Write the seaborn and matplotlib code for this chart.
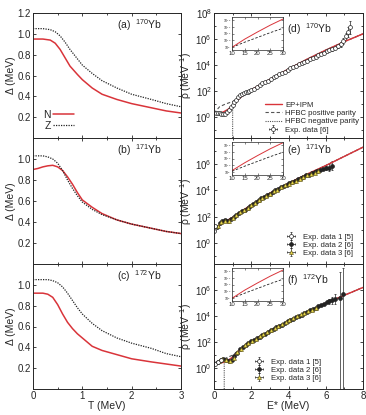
import numpy as np
import matplotlib
matplotlib.use("Agg")
import matplotlib.pyplot as plt
import seaborn as sns
from matplotlib.lines import Line2D

# ---------------- left column: pairing gaps ----------------
T_a = [0, 0.2, 0.35, 0.45, 0.55, 0.65, 0.75, 0.9, 1.0, 1.2, 1.4, 1.7, 2.0, 2.4, 2.7, 3.0]
gapN_a = [0.95, 0.95, 0.94, 0.91, 0.85, 0.77, 0.69, 0.61, 0.56, 0.48, 0.42, 0.37, 0.33, 0.29, 0.26, 0.24]
gapZ_a = [1.05, 1.05, 1.04, 1.02, 0.98, 0.92, 0.85, 0.76, 0.70, 0.62, 0.55, 0.48, 0.42, 0.37, 0.33, 0.30]

T_b = [0, 0.1, 0.2, 0.3, 0.4, 0.5, 0.6, 0.7, 0.8, 0.9, 1.0, 1.2, 1.4, 1.7, 2.0, 2.4, 2.7, 3.0]
gapN_b = [0.90, 0.91, 0.925, 0.935, 0.94, 0.925, 0.89, 0.83, 0.76, 0.68, 0.61, 0.54, 0.48, 0.42, 0.38, 0.34, 0.31, 0.29]
gapZ_b = [1.03, 1.03, 1.03, 1.02, 1.00, 0.96, 0.89, 0.80, 0.72, 0.65, 0.59, 0.52, 0.47, 0.42, 0.38, 0.34, 0.31, 0.29]

T_c = [0, 0.2, 0.3, 0.4, 0.5, 0.6, 0.7, 0.8, 0.9, 1.0, 1.2, 1.4, 1.7, 2.0, 2.4, 2.7, 3.0]
gapN_c = [0.92, 0.92, 0.91, 0.88, 0.81, 0.72, 0.64, 0.58, 0.53, 0.49, 0.41, 0.37, 0.33, 0.29, 0.26, 0.24, 0.22]
gapZ_c = [1.05, 1.05, 1.05, 1.04, 1.02, 0.98, 0.92, 0.85, 0.78, 0.72, 0.63, 0.56, 0.49, 0.44, 0.39, 0.34, 0.31]

# ---------------- right column: level densities (log10 rho) ----------------
E_model = [0, 0.02, 0.25, 0.5, 0.75, 1.0, 1.25, 1.5, 2.0, 2.5, 3.0, 4.0, 5.0, 6.0, 7.0, 8.0]
ep_d = [1.4, 0.25, 0.3, 0.4, 0.6, 0.9, 1.3, 1.6, 2.1, 2.5, 2.9, 3.7, 4.45, 5.15, 5.8, 6.4]
ep_e = [1.8, 1.1, 1.3, 1.6, 1.75, 1.95, 2.2, 2.45, 2.9, 3.35, 3.8, 4.55, 5.25, 5.9, 6.6, 7.3]
ep_f = [1.5, 0.3, 0.35, 0.45, 0.6, 0.85, 1.2, 1.55, 2.05, 2.45, 2.85, 3.6, 4.3, 5.0, 5.6, 6.2]

E_pos = [0, 0.3, 0.6, 1.0, 1.5, 2.0, 3.0, 4.0, 5.0, 6.0, 7.0, 8.0]
pos_d = [0.3, 0.8, 1.0, 1.2, 1.6, 2.1, 2.9, 3.7, 4.45, 5.15, 5.8, 6.4]
pos_e = [1.1, 1.4, 1.65, 1.95, 2.45, 2.9, 3.8, 4.55, 5.25, 5.9, 6.6, 7.3]
pos_f = [0.4, 0.6, 0.75, 1.0, 1.55, 2.05, 2.85, 3.6, 4.3, 5.0, 5.6, 6.2]

E_neg_d = [1.0, 1.0, 1.25, 1.5, 2.0, 3.0, 4.0, 5.0, 6.0, 7.0, 8.0]
neg_d = [-1.6, 0.8, 1.25, 1.6, 2.1, 2.9, 3.7, 4.45, 5.15, 5.8, 6.4]
E_neg_e = [0.0, 0.0, 0.5, 1.0, 2.0, 3.0, 4.0, 5.0, 6.0, 7.0, 8.0]
neg_e = [-1.6, 1.1, 1.6, 1.95, 2.9, 3.8, 4.55, 5.25, 5.9, 6.6, 7.3]
E_neg_f = [0.55, 0.55, 0.75, 1.0, 1.5, 2.0, 3.0, 4.0, 5.0, 6.0, 7.0, 8.0]
neg_f = [-1.6, 0.45, 0.6, 0.85, 1.55, 2.05, 2.85, 3.6, 4.3, 5.0, 5.6, 6.2]

# Exp. data [6] for 170Yb
E_exp_d = [0.1, 0.2, 0.3, 0.4, 0.5, 0.6, 0.7, 0.8, 0.9, 1.0, 1.1, 1.2, 1.3, 1.4, 1.5, 1.6,
           1.7, 1.8, 1.9, 2.0, 2.15, 2.3, 2.45, 2.6, 2.75, 2.9, 3.05, 3.2, 3.35, 3.5, 3.65,
           3.8, 3.95, 4.1, 4.25, 4.4, 4.55, 4.7, 4.85, 5.0, 5.15, 5.3, 5.45, 5.6, 5.75, 5.9,
           6.05, 6.2, 6.35, 6.5, 6.65, 6.8, 6.95, 7.1, 7.2, 7.3]
rho_exp_d = [0.35, 0.32, 0.3, 0.25, 0.22, 0.28, 0.4, 0.55, 0.75, 0.95, 1.15, 1.35, 1.55, 1.7,
             1.8, 1.85, 1.9, 1.95, 2.0, 2.05, 2.2, 2.35, 2.45, 2.6, 2.7, 2.8, 2.95, 3.05, 3.15,
             3.3, 3.4, 3.5, 3.6, 3.75, 3.85, 3.95, 4.05, 4.15, 4.25, 4.35, 4.45, 4.55, 4.65,
             4.75, 4.85, 4.95, 5.05, 5.15, 5.2, 5.3, 5.45, 5.6, 5.85, 6.2, 6.55, 6.9]
err_exp_d = [0.04] * 48 + [0.08, 0.1, 0.15, 0.2, 0.25, 0.3, 0.4, 0.5]

# Exp. data for 171Yb
E_e1 = [0.0, 0.05]
rho_e1 = [0.95, 1.3]
E_e2 = [0.15, 0.3, 0.45, 0.6, 0.75, 0.9, 1.05, 1.2, 1.35, 1.5, 1.65, 1.8, 1.95, 2.1, 2.25,
        2.4, 2.55, 2.7, 2.85, 3.0, 3.15, 3.3, 3.45, 3.6, 3.75, 3.9, 4.05, 4.2, 4.35, 4.5,
        4.65, 4.8, 4.95, 5.1, 5.25, 5.4, 5.55, 5.7, 5.85, 6.0, 6.2, 6.35]
rho_e2 = [1.2, 1.55, 1.7, 1.75, 1.7, 1.8, 2.0, 2.15, 2.3, 2.45, 2.55, 2.7, 2.85, 3.0, 3.1,
          3.25, 3.4, 3.5, 3.65, 3.75, 3.9, 4.0, 4.1, 4.25, 4.35, 4.45, 4.55, 4.65, 4.75, 4.85,
          4.95, 5.05, 5.15, 5.2, 5.3, 5.4, 5.5, 5.55, 5.65, 5.7, 5.75, 5.9]
err_e2 = [0.05] * 39 + [0.15, 0.25, 0.35]
E_e3 = [0.2, 0.4, 0.6, 0.8, 1.0, 1.2, 1.4, 1.6, 1.8, 2.0, 2.2, 2.4, 2.6, 2.8, 3.0, 3.2,
        3.4, 3.6, 3.8, 4.0, 4.2, 4.4, 4.6, 4.8, 5.0, 5.2, 5.4, 5.6]
rho_e3 = [1.3, 1.6, 1.65, 1.65, 1.9, 2.1, 2.35, 2.5, 2.7, 2.9, 3.05, 3.25, 3.45, 3.6, 3.75, 3.95,
          4.05, 4.25, 4.4, 4.5, 4.65, 4.75, 4.9, 5.0, 5.15, 5.25, 5.35, 5.45]

# Exp. data for 172Yb
E_f1 = [0.05, 0.2, 0.35]
rho_f1 = [0.3, 0.45, 0.6]
E_f2 = [0.2, 0.35, 0.5, 0.65, 0.8, 0.95, 1.1, 1.25, 1.4, 1.55, 1.7, 1.85, 2.0, 2.15, 2.3,
        2.45, 2.6, 2.75, 2.9, 3.05, 3.2, 3.35, 3.5, 3.65, 3.8, 3.95, 4.1, 4.25, 4.4, 4.55,
        4.7, 4.85, 5.0, 5.15, 5.3, 5.45, 5.6, 5.75, 5.9, 6.05, 6.2, 6.35, 6.5, 6.75, 6.9]
rho_f2 = [0.5, 0.65, 0.7, 0.65, 0.55, 0.6, 0.9, 1.2, 1.45, 1.65, 1.8, 1.95, 2.05, 2.2, 2.3,
          2.4, 2.55, 2.65, 2.8, 2.9, 3.0, 3.15, 3.25, 3.35, 3.45, 3.6, 3.7, 3.8, 3.9, 4.0,
          4.1, 4.25, 4.35, 4.45, 4.55, 4.65, 4.75, 4.85, 4.95, 5.05, 5.15, 5.2, 5.3, 5.4, 5.7]
err_f2_lo = [0.05] * 40 + [0.2, 0.3, 0.4, 7.0, 7.3]
err_f2_hi = [0.05] * 40 + [0.2, 0.3, 0.4, 2.0, 2.0]
E_f3 = [0.25, 0.45, 0.65, 0.85, 1.05, 1.25, 1.45, 1.65, 1.85, 2.05, 2.25, 2.45, 2.65, 2.85,
        3.05, 3.25, 3.45, 3.65, 3.85, 4.05, 4.25, 4.45, 4.65, 4.85, 5.05, 5.25, 5.45]
rho_f3 = [0.55, 0.7, 0.6, 0.55, 0.8, 1.25, 1.5, 1.75, 1.95, 2.1, 2.25, 2.45, 2.6, 2.8,
          2.95, 3.1, 3.25, 3.4, 3.55, 3.7, 3.85, 4.0, 4.15, 4.25, 4.4, 4.5, 4.65]

# insets: high-energy extrapolation
E_ins = [10, 15, 20, 25, 30]
ins_ep = {"d": [8.0, 10.4, 12.5, 14.5, 16.3], "e": [8.5, 10.8, 12.9, 14.9, 16.7],
          "f": [8.0, 10.4, 12.5, 14.5, 16.3]}
ins_hf = {"d": [8.0, 9.5, 10.9, 12.3, 13.6], "e": [8.3, 9.8, 11.2, 12.6, 13.9],
          "f": [8.0, 9.5, 10.9, 12.3, 13.6]}

RED = "#d9343a"
DARK = "#222222"
GRAY = "#555555"

sns.set_style("ticks")
plt.rcParams["font.family"] = ["Liberation Sans", "DejaVu Sans"]
plt.rcParams["mathtext.fontset"] = "custom"
plt.rcParams["mathtext.rm"] = "Liberation Sans"
plt.rcParams["mathtext.it"] = "Liberation Sans:italic"
plt.rcParams["xtick.direction"] = "in"
plt.rcParams["ytick.direction"] = "in"

fig = plt.figure(figsize=(3.66, 4.15), dpi=100)
W, H = 366.0, 415.0

rows = [(13, 138), (138, 264), (264, 389)]
left_x = (33, 181)
right_x = (214, 363)


def add_ax(xr, yr):
    return fig.add_axes([xr[0] / W, 1 - yr[1] / H, (xr[1] - xr[0]) / W, (yr[1] - yr[0]) / H])


def style(ax):
    ax.tick_params(which="both", top=True, right=True, labelsize=7, length=2.5, width=0.6, pad=1.5)
    ax.tick_params(which="minor", length=1.5)
    for s in ax.spines.values():
        s.set_linewidth(0.7)


gaps = [(T_a, gapN_a, gapZ_a, "(a)", "170"), (T_b, gapN_b, gapZ_b, "(b)", "171"),
        (T_c, gapN_c, gapZ_c, "(c)", "172")]
for i, (T, gN, gZ, tag, A) in enumerate(gaps):
    ax = add_ax(left_x, rows[i])
    sns.lineplot(x=T, y=gN, ax=ax, color=RED, lw=1.1, estimator=None, sort=False)
    sns.lineplot(x=T, y=gZ, ax=ax, color=DARK, lw=0.9, linestyle=(0, (1, 1)), estimator=None, sort=False)
    ax.set_xlim(0, 3)
    ax.set_ylim(0, 1.2)
    ax.set_xticks([0, 1, 2, 3])
    ax.set_xticks([0.5, 1.5, 2.5], minor=True)
    ax.set_yticks([0.2, 0.4, 0.6, 0.8, 1.0, 1.2] if i == 0 else [0.2, 0.4, 0.6, 0.8, 1.0])
    ax.set_ylabel("Δ (MeV)", fontsize=7.5, labelpad=1)
    style(ax)
    if i < 2:
        ax.tick_params(labelbottom=False)
    else:
        ax.set_xlabel("T (MeV)", fontsize=7.5, labelpad=0)
    ax.text(0.57, 0.87, tag + "  $^{" + A + "}$Yb", transform=ax.transAxes, fontsize=7.5)
    if i == 0:
        hs = [Line2D([], [], color=RED, lw=1.1), Line2D([], [], color=DARK, lw=0.9, ls=(0, (1, 1)))]
        ax.legend(hs, ["N", "Z"], loc="lower left", bbox_to_anchor=(0.02, 0.0), frameon=False,
                  markerfirst=False, fontsize=7.5, handlelength=2.0, handletextpad=0.2,
                  labelspacing=0.1, borderaxespad=0.3)

models = [
    (ep_d, pos_d, E_neg_d, neg_d, "(d)", "170", "d"),
    (ep_e, pos_e, E_neg_e, neg_e, "(e)", "171", "e"),
    (ep_f, pos_f, E_neg_f, neg_f, "(f)", "172", "f"),
]
eb = dict(ms=2.8, capsize=1.0, elinewidth=0.5, capthick=0.5, mew=0.5, lw=0)
for i, (ep, pos, en, neg, tag, A, key) in enumerate(models):
    ax = add_ax(right_x, rows[i])
    ax.set_yscale("log")
    h_ep = ax.plot([], [], color=RED, lw=1.0)[0]
    h_pos = ax.plot([], [], color=GRAY, lw=0.8, ls=(0, (3, 2)))[0]
    h_neg = ax.plot([], [], color=GRAY, lw=0.8, ls=(0, (1, 1)))[0]
    if key == "d":
        r = 10 ** np.array(rho_exp_d)
        h1 = ax.errorbar(E_exp_d, r, xerr=[0] * len(E_exp_d),
                         yerr=[r * (1 - 10 ** -np.array(err_exp_d)), r * (10 ** np.array(err_exp_d) - 1)],
                         fmt="o", mfc="white", mec=DARK, ecolor=DARK, **eb)
    elif key == "e":
        r2 = 10 ** np.array(rho_e2)
        h2 = ax.errorbar(E_e2, r2, xerr=[0] * len(E_e2),
                         yerr=[r2 * (1 - 10 ** -np.array(err_e2)), r2 * (10 ** np.array(err_e2) - 1)],
                         fmt="o", mfc=DARK, mec=DARK, ecolor=DARK, **eb)
        h3 = ax.errorbar(E_e3, 10 ** np.array(rho_e3), xerr=[0] * len(E_e3), yerr=[0] * len(E_e3),
                         fmt="^", mfc="#e8d84a", mec="#6b6020", ecolor=DARK, **eb)
        h1 = ax.errorbar(E_e1, 10 ** np.array(rho_e1), xerr=[0] * len(E_e1), yerr=[0] * len(E_e1),
                         fmt="o", mfc="white", mec=DARK, ecolor=DARK, **eb)
    else:
        r2 = 10 ** np.array(rho_f2)
        h2 = ax.errorbar(E_f2, r2, xerr=[0] * len(E_f2),
                         yerr=[r2 * (1 - 10 ** -np.array(err_f2_lo)), r2 * (10 ** np.array(err_f2_hi) - 1)],
                         fmt="o", mfc=DARK, mec=DARK, ecolor=DARK, **eb)
        h3 = ax.errorbar(E_f3, 10 ** np.array(rho_f3), xerr=[0] * len(E_f3), yerr=[0] * len(E_f3),
                         fmt="^", mfc="#e8d84a", mec="#6b6020", ecolor=DARK, **eb)
        h1 = ax.errorbar(E_f1, 10 ** np.array(rho_f1), xerr=[0] * len(E_f1), yerr=[0] * len(E_f1),
                         fmt="o", mfc="white", mec=DARK, ecolor=DARK, **eb)
    sns.lineplot(x=E_pos, y=10 ** np.array(pos), ax=ax, color=GRAY, lw=0.8,
                 linestyle=(0, (3, 2)), estimator=None, sort=False)
    sns.lineplot(x=en, y=10 ** np.array(neg), ax=ax, color=GRAY, lw=0.8,
                 linestyle=(0, (1, 1)), estimator=None, sort=False)
    sns.lineplot(x=E_model, y=10 ** np.array(ep), ax=ax, color=RED, lw=1.0, estimator=None, sort=False)
    ax.set_xlim(0, 8)
    ax.set_ylim(10 ** -1.6, 1e8)
    ax.set_xticks([0, 2, 4, 6, 8])
    ax.set_xticks([1, 3, 5, 7], minor=True)
    ax.set_yticks([1e0, 1e2, 1e4, 1e6, 1e8] if i == 0 else [1e0, 1e2, 1e4, 1e6])
    ax.set_yticks([10.0 ** k for k in range(-1, 9) if k % 2], minor=True)
    ax.set_yticklabels([], minor=True)
    ax.set_ylabel("ρ (MeV$^{-1}$)", fontsize=7.5, labelpad=1)
    style(ax)
    if i < 2:
        ax.tick_params(labelbottom=False)
    else:
        ax.set_xlabel("E* (MeV)", fontsize=7.5, labelpad=0)
    ax.text(0.49, 0.84 if i != 1 else 0.87, tag + "  $^{" + A + "}$Yb",
            transform=ax.transAxes, fontsize=7.5)
    lg = dict(frameon=False, fontsize=5.6, handlelength=2.2, handletextpad=0.4, labelspacing=0.1)
    if key == "d":
        ax.legend([h_ep, h_pos, h_neg, h1],
                  ["EP+IPM", "HFBC positive parity", "HFBC negative parity", "Exp. data [6]"],
                  loc="lower right", bbox_to_anchor=(1.02, -0.02), **lg)
    elif key == "e":
        ax.legend([h1, h2, h3], ["Exp. data 1 [5]", "Exp. data 2 [6]", "Exp. data 3 [6]"],
                  loc="lower right", bbox_to_anchor=(0.98, 0.0), **lg)
    else:
        ax.legend([h1, h2, h3], ["Exp. data 1 [5]", "Exp. data 2 [6]", "Exp. data 3 [6]"],
                  loc="lower left", bbox_to_anchor=(0.2, 0.0), **lg)

    # inset
    top = rows[i][0]
    ins = add_ax((232, 283), (top + 4, top + 37))
    ins.set_yscale("log")
    sns.lineplot(x=E_ins, y=10 ** np.array(ins_hf[key]), ax=ins, color=DARK, lw=0.6,
                 linestyle=(0, (3, 2)), estimator=None)
    sns.lineplot(x=E_ins, y=10 ** np.array(ins_ep[key]), ax=ins, color=RED, lw=0.7, estimator=None)
    ins.set_xlim(10, 30)
    ins.set_ylim(10 ** 7.2, 10 ** 16.9)
    ins.set_xticks([10, 15, 20, 25, 30])
    ins.set_yticks([1e8, 1e10, 1e12, 1e14, 1e16])
    ins.yaxis.set_minor_locator(matplotlib.ticker.NullLocator())
    ins.tick_params(labelsize=4.3, length=1.2, width=0.4, pad=0.8, top=True, right=True)
    ins.tick_params(axis="y", labelsize=2.5, pad=0.5)
    for s in ins.spines.values():
        s.set_linewidth(0.5)

fig.savefig("out.png", dpi=100)
